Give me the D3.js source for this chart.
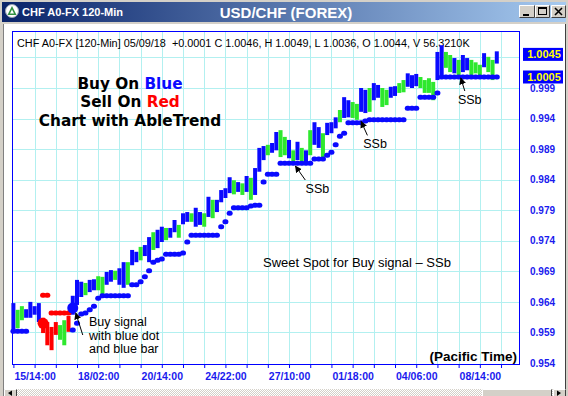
<!DOCTYPE html>
<html>
<head>
<meta charset="utf-8">
<script src="https://cdn.jsdelivr.net/npm/d3@7"></script>
<style>
  html, body { margin: 0; padding: 0; background: #fff; }
  svg { display: block; font-family: "Liberation Sans", Arial, sans-serif; }
</style>
</head>
<body>
<div id="chart"></div>
<script>
/* global d3 */

const WIDTH = 568;
const HEIGHT = 396;

// time axis: one unit = one 120-min bar, a tick every 10 bars, a label every 30
const TIME_LABELS = ["15/14:00", "18/02:00", "20/14:00", "24/22:00", "27/10:00", "01/18:00", "04/06:00", "08/14:00"];
const TIME_LABEL_BARS = [10, 40, 70, 100, 130, 160, 190, 220];
const PRICE_TICKS = [0.954, 0.959, 0.964, 0.969, 0.974, 0.979, 0.984, 0.989, 0.994, 0.999];
const GRID_PRICES = [0.959, 0.964, 0.969, 0.974, 0.979, 0.984, 0.989, 0.994, 0.999, 1.004];

// each drawn bar covers two 120-min bars
const BAR_STEP = 2;
const BAR_HIGH = [
  0.9638, 0.9627, 0.9633, 0.9628, 0.9640, 0.9633, 0.9638, 0.9614, 0.9607, 0.9599,
  0.9607, 0.9602, 0.9610, 0.9617, 0.9650, 0.9676, 0.9673, 0.9671, 0.9676, 0.9677,
  0.9682, 0.9681, 0.9689, 0.9692, 0.9691, 0.9695, 0.9705, 0.9705, 0.9725, 0.9722,
  0.9730, 0.9733, 0.9746, 0.9754, 0.9758, 0.9763, 0.9761, 0.9761, 0.9774, 0.9766,
  0.9785, 0.9787, 0.9785, 0.9794, 0.9787, 0.9785, 0.9812, 0.9807, 0.9807, 0.9823,
  0.9826, 0.9844, 0.9839, 0.9836, 0.9834, 0.9846, 0.9843, 0.9859, 0.9892, 0.9895,
  0.9897, 0.9900, 0.9918, 0.9921, 0.9910, 0.9905, 0.9888, 0.9902, 0.9892, 0.9888,
  0.9921, 0.9934, 0.9926, 0.9916, 0.9933, 0.9934, 0.9942, 0.9954, 0.9975, 0.9970,
  0.9967, 0.9964, 0.9990, 0.9987, 0.9990, 0.9998, 0.9995, 0.9990, 0.9987, 0.9992,
  0.9993, 0.9998, 1.0003, 1.0014, 1.0011, 1.0013, 1.0008, 1.0003, 1.0006, 1.0000,
  1.0049, 1.0060, 1.0049, 1.0044, 1.0039, 1.0036, 1.0044, 1.0039, 1.0036, 1.0032,
  1.0028, 1.0047, 1.0041, 1.0036, 1.0050,
];
const BAR_LOW = [
  0.9594, 0.9597, 0.9610, 0.9614, 0.9614, 0.9619, 0.9607, 0.9589, 0.9569, 0.9561,
  0.9586, 0.9578, 0.9569, 0.9591, 0.9619, 0.9635, 0.9648, 0.9651, 0.9656, 0.9659,
  0.9659, 0.9648, 0.9668, 0.9673, 0.9676, 0.9668, 0.9663, 0.9668, 0.9700, 0.9705,
  0.9708, 0.9715, 0.9705, 0.9725, 0.9728, 0.9738, 0.9741, 0.9745, 0.9754, 0.9745,
  0.9767, 0.9771, 0.9771, 0.9763, 0.9766, 0.9763, 0.9779, 0.9777, 0.9787, 0.9803,
  0.9810, 0.9818, 0.9816, 0.9820, 0.9815, 0.9820, 0.9807, 0.9815, 0.9853, 0.9872,
  0.9880, 0.9884, 0.9888, 0.9877, 0.9880, 0.9875, 0.9869, 0.9872, 0.9869, 0.9869,
  0.9880, 0.9897, 0.9892, 0.9872, 0.9913, 0.9916, 0.9924, 0.9934, 0.9941, 0.9942,
  0.9941, 0.9938, 0.9951, 0.9949, 0.9951, 0.9970, 0.9974, 0.9959, 0.9962, 0.9974,
  0.9977, 0.9982, 0.9983, 0.9992, 0.9990, 0.9993, 0.9990, 0.9982, 0.9982, 0.9970,
  1.0003, 1.0011, 1.0023, 1.0016, 1.0014, 1.0010, 1.0016, 1.0019, 1.0011, 1.0014,
  1.0008, 1.0024, 1.0016, 1.0003, 1.0030,
];
// b = blue (up trend), g = green (neutral), r = red (down trend)
const BAR_TYPE = [
  "b", "g", "g", "b", "b", "b", "b", "r", "r", "r",
  "r", "g", "g", "r", "b", "b", "b", "g", "b", "b",
  "g", "g", "b", "b", "g", "b", "b", "g", "b", "b",
  "g", "b", "b", "g", "b", "b", "g", "b", "b", "g",
  "b", "b", "g", "b", "b", "g", "b", "g", "b", "b",
  "b", "b", "g", "b", "g", "b", "g", "b", "b", "b",
  "g", "b", "b", "g", "g", "b", "g", "b", "g", "b",
  "g", "b", "b", "g", "b", "b", "b", "g", "b", "b",
  "g", "g", "b", "b", "g", "b", "b", "g", "g", "b",
  "b", "g", "g", "b", "b", "b", "g", "g", "g", "g",
  "b", "b", "g", "g", "b", "g", "b", "b", "g", "g",
  "g", "b", "g", "g", "b",
];

// trailing stops: [first bar, last bar, price]
const BLUE_STOPS = [
  [0, 3, 0.9592], [14, 14, 0.9594], [15, 15, 0.9605], [16, 16, 0.9620], [17, 17, 0.9622],
  [18, 18, 0.9627], [19, 19, 0.9633], [20, 20, 0.9646], [21, 27, 0.9650], [28, 29, 0.9668],
  [30, 30, 0.9673], [31, 31, 0.9681], [32, 32, 0.9691], [33, 33, 0.9705], [34, 34, 0.9708],
  [35, 35, 0.9710], [36, 39, 0.9718], [40, 40, 0.9720], [41, 41, 0.9738], [42, 48, 0.9749],
  [49, 49, 0.9763], [50, 50, 0.9771], [51, 51, 0.9785], [52, 55, 0.9794], [56, 56, 0.9797],
  [57, 58, 0.9798], [59, 59, 0.9836], [60, 62, 0.9849], [63, 70, 0.9867], [71, 73, 0.9874],
  [74, 74, 0.9880], [75, 75, 0.9885], [76, 76, 0.9897], [77, 77, 0.9911], [78, 78, 0.9916],
  [79, 82, 0.9933], [83, 83, 0.9936], [84, 92, 0.9938], [93, 95, 0.9957], [96, 99, 0.9975],
  [100, 100, 0.9982], [101, 114, 1.0008],
];
const RED_STOPS = [[7, 8, 0.9651], [9, 13, 0.9622]];

const SIGNAL_BARS = [7, 14];
const SIGNAL_PRICES = [0.9605, 0.9630];
const SIGNAL_TYPES = ["r", "b"];

const SSB_BARS = [133, 164, 211];
const SSB_PRICES = [0.9864, 0.9937, 1.0008];

const FLAG_TEXTS = ["1.0045", "1.0005"];
const FLAG_PRICES = [1.0045, 1.0008];

const COLORS = { b: "#0a0aff", g: "#2ee82e", r: "#ff0000" };
const AXIS_BLUE = "#1a1aee";
const GRID = "#b2f0f0";

const plot = { left: 12.5, top: 31.5, right: 519.5, bottom: 364 };

const x = d3.scaleLinear().domain([0, 238]).range([13.4, 518]);
const y = d3.scaleLinear().domain([0.954, 0.999]).range([363, 88]);

const svg = d3.select("#chart")
  .append("svg")
  .attr("width", WIDTH)
  .attr("height", HEIGHT)
  .attr("viewBox", `0 0 ${WIDTH} ${HEIGHT}`);

const defs = svg.append("defs");

const grad = defs.append("linearGradient").attr("id", "titleGrad");
grad.append("stop").attr("offset", "0%").attr("stop-color", "#0a246a");
grad.append("stop").attr("offset", "100%").attr("stop-color", "#a6caf0");

const checker = defs.append("pattern")
  .attr("id", "checker")
  .attr("width", 2)
  .attr("height", 2)
  .attr("patternUnits", "userSpaceOnUse");
checker.append("rect").attr("width", 2).attr("height", 2).attr("fill", "#d4d0c8");
checker.append("rect").attr("width", 1).attr("height", 1).attr("fill", "#fff");
checker.append("rect").attr("x", 1).attr("y", 1).attr("width", 1).attr("height", 1).attr("fill", "#fff");

defs.append("marker")
  .attr("id", "arrow")
  .attr("viewBox", "0 0 10 10")
  .attr("refX", 9)
  .attr("refY", 5)
  .attr("markerWidth", 7)
  .attr("markerHeight", 7)
  .attr("markerUnits", "userSpaceOnUse")
  .attr("orient", "auto")
  .append("path")
  .attr("d", "M0,0 L10,5 L0,10 z")
  .attr("fill", "#000");

// ---- window frame ----
svg.append("rect").attr("width", WIDTH).attr("height", HEIGHT).attr("fill", "#d4d0c8");
svg.append("rect").attr("x", 2).attr("y", 2).attr("width", 564).attr("height", 20).attr("fill", "url(#titleGrad)");
svg.append("rect").attr("x", 4).attr("y", 24).attr("width", 561).attr("height", 365).attr("fill", "#fff");
svg.append("line")
  .attr("x1", 565.5).attr("x2", 565.5).attr("y1", 24).attr("y2", 389)
  .attr("stroke", "#404040");
svg.append("line")
  .attr("x1", 3.5).attr("x2", 3.5).attr("y1", 24).attr("y2", 396)
  .attr("stroke", "#808080");

// title bar icon
svg.append("circle").attr("cx", 12).attr("cy", 11).attr("r", 6.5)
  .attr("fill", "#fff").attr("stroke", "#9aa4b4");
svg.append("path").attr("d", "M12,6 L16.5,15 L7.5,15 z").attr("fill", "#2f8f3f");
svg.append("path").attr("d", "M12,9.5 L14,13.5 L10,13.5 z").attr("fill", "#fff");

svg.append("text")
  .attr("x", 22).attr("y", 16)
  .attr("fill", "#fff")
  .attr("font-weight", "bold")
  .attr("font-size", 11)
  .text("CHF A0-FX 120-Min");

svg.append("text")
  .attr("x", 286).attr("y", 18)
  .attr("text-anchor", "middle")
  .attr("fill", "#fff")
  .attr("font-weight", "bold")
  .attr("font-size", 15)
  .text("USD/CHF (FOREX)");

// caption buttons
[[519, 16, "min"], [535, 15, "max"], [551, 15, "close"]].forEach(([bx, bw, kind]) => {
  const b = svg.append("g").attr("transform", `translate(${bx},5)`);
  b.append("rect").attr("width", bw).attr("height", 13).attr("fill", "#d4d0c8");
  b.append("path").attr("d", `M0.5,12.5 V0.5 H${bw - 0.5}`).attr("fill", "none").attr("stroke", "#fff");
  b.append("path").attr("d", `M0.5,12.5 H${bw - 0.5} V0.5`).attr("fill", "none").attr("stroke", "#404040");
  if (kind === "min") {
    b.append("rect").attr("x", 4).attr("y", 9).attr("width", 6).attr("height", 2).attr("fill", "#000");
  } else if (kind === "max") {
    b.append("rect").attr("x", 3.5).attr("y", 2.5).attr("width", 8).attr("height", 7)
      .attr("fill", "none").attr("stroke", "#000");
    b.append("rect").attr("x", 3.5).attr("y", 2.5).attr("width", 8).attr("height", 1.5).attr("fill", "#000");
  } else {
    b.append("path").attr("d", "M4,3 L11,10 M11,3 L4,10").attr("stroke", "#000").attr("stroke-width", 1.6);
  }
});

// scrollbar
svg.append("rect").attr("x", 4).attr("y", 389).attr("width", 562).attr("height", 7).attr("fill", "url(#checker)");
[[4, 13], [482, 70], [553, 13]].forEach(([sx, sw]) => {
  svg.append("rect").attr("x", sx).attr("y", 389).attr("width", sw).attr("height", 7).attr("fill", "#d4d0c8");
  svg.append("path").attr("d", `M${sx + 0.5},396 V389.5 H${sx + sw - 0.5}`).attr("fill", "none").attr("stroke", "#fff");
  svg.append("path").attr("d", `M${sx + sw - 0.5},389.5 V396`).attr("fill", "none").attr("stroke", "#404040");
});
svg.append("path").attr("d", "M8,393 L12,390.5 L12,396 z").attr("fill", "#000");
svg.append("path").attr("d", "M561,393 L557,390.5 L557,396 z").attr("fill", "#000");

// ---- grid ----
const grid = svg.append("g");
const timeTicks = d3.range(0, 231, 10);

grid.selectAll(".vgrid")
  .data(timeTicks.slice(1))
  .join("line")
  .attr("x1", (d) => Math.round(x(d)) + 0.5)
  .attr("x2", (d) => Math.round(x(d)) + 0.5)
  .attr("y1", plot.top)
  .attr("y2", plot.bottom)
  .attr("stroke", GRID);

grid.selectAll(".hgrid")
  .data(GRID_PRICES)
  .join("line")
  .attr("x1", plot.left)
  .attr("x2", plot.right)
  .attr("y1", (d) => Math.round(y(d)) + 0.5)
  .attr("y2", (d) => Math.round(y(d)) + 0.5)
  .attr("stroke", GRID);

svg.append("rect")
  .attr("x", plot.left).attr("y", plot.top)
  .attr("width", plot.right - plot.left)
  .attr("height", plot.bottom - plot.top + 0.5)
  .attr("fill", "none")
  .attr("stroke", "#0000ff");

// ---- header ----
svg.append("text")
  .attr("x", 17).attr("y", 46.5)
  .attr("font-size", 10.85)
  .attr("fill", "#000")
  .attr("xml:space", "preserve")
  .style("white-space", "pre")
  .text("CHF A0-FX [120-Min] 05/09/18  +0.0001 C 1.0046, H 1.0049, L 1.0036, O 1.0044, V 56.3210K");

// ---- bars ----
const bars = BAR_HIGH.map((hi, i) => ({ i, hi, lo: BAR_LOW[i], type: BAR_TYPE[i] }));

svg.append("g")
  .selectAll("rect")
  .data(bars)
  .join("rect")
  .attr("x", (d) => x(d.i * BAR_STEP) - 2)
  .attr("y", (d) => y(d.hi))
  .attr("width", 4)
  .attr("height", (d) => Math.max(2, y(d.lo) - y(d.hi)))
  .attr("fill", (d) => COLORS[d.type]);

// ---- stops ----
function expandStops(runs, type) {
  const out = [];
  runs.forEach(([a, b, price]) => {
    for (let i = a; i <= b; i += 1) out.push({ i, price, type });
  });
  return out;
}

const stops = expandStops(BLUE_STOPS, "b").concat(expandStops(RED_STOPS, "r"));

svg.append("g")
  .selectAll("rect")
  .data(stops)
  .join("rect")
  .attr("x", (d) => x(d.i * BAR_STEP) - 3)
  .attr("y", (d) => y(d.price) - 2.5)
  .attr("width", 6)
  .attr("height", 5)
  .attr("rx", 2.5)
  .attr("fill", (d) => COLORS[d.type]);

// ---- signal dots ----
svg.append("g")
  .selectAll("circle")
  .data(SIGNAL_BARS)
  .join("circle")
  .attr("cx", (d) => x(d * BAR_STEP))
  .attr("cy", (d, i) => y(SIGNAL_PRICES[i]))
  .attr("r", 5.5)
  .attr("fill", (d, i) => COLORS[SIGNAL_TYPES[i]]);

// ---- annotations ----
const notes = svg.append("g").attr("fill", "#000");

const bold = (sel) => sel.attr("font-family", "'DejaVu Sans', Verdana, sans-serif").attr("font-weight", "bold").attr("font-size", 15.3);

const l1 = notes.append("text").attr("x", 130).attr("y", 89).attr("text-anchor", "middle").call(bold);
l1.append("tspan").text("Buy On ");
l1.append("tspan").attr("fill", COLORS.b).text("Blue");
const l2 = notes.append("text").attr("x", 130).attr("y", 107).attr("text-anchor", "middle").call(bold);
l2.append("tspan").text("Sell On ");
l2.append("tspan").attr("fill", COLORS.r).text("Red");
notes.append("text").attr("x", 130).attr("y", 126).attr("text-anchor", "middle").call(bold).text("Chart with AbleTrend");

notes.append("text")
  .attr("x", 263).attr("y", 266.5)
  .attr("font-size", 13)
  .text("Sweet Spot for Buy signal \u2013 SSb");

const ssbOffsets = [[22, 23], [14, 23], [9, 22]];
SSB_BARS.forEach((bar, i) => {
  const tx = x(bar);
  const ty = y(SSB_PRICES[i]);
  const [ox, oy] = ssbOffsets[i];
  notes.append("line")
    .attr("x1", tx + ox * 0.45).attr("y1", ty + oy - 8)
    .attr("x2", tx).attr("y2", ty + 1)
    .attr("stroke", "#000")
    .attr("marker-end", "url(#arrow)");
  notes.append("text")
    .attr("x", tx + ox).attr("y", ty + oy + 4.5)
    .attr("text-anchor", "middle")
    .attr("font-size", 12.5)
    .text("SSb");
});

const buyX = x(SIGNAL_BARS[1] * BAR_STEP);
const buyY = y(SIGNAL_PRICES[1]);
notes.append("line")
  .attr("x1", buyX + 10).attr("y1", buyY + 27)
  .attr("x2", buyX + 3).attr("y2", buyY + 5)
  .attr("stroke", "#000")
  .attr("marker-end", "url(#arrow)");
["Buy signal", "with blue dot", "and blue bar"].forEach((line, i) => {
  notes.append("text")
    .attr("x", 89).attr("y", 326 + i * 13.5)
    .attr("font-size", 12.5)
    .text(line);
});

notes.append("text")
  .attr("x", 517).attr("y", 360.5)
  .attr("text-anchor", "end")
  .attr("font-weight", "bold")
  .attr("font-size", 13.5)
  .text("(Pacific Time)");

// ---- axes ----
const xAxis = svg.append("g")
  .attr("transform", `translate(0,${plot.bottom})`)
  .call(
    d3.axisBottom(x)
      .tickValues(timeTicks)
      .tickSize(4)
      .tickFormat((d) => {
        const k = TIME_LABEL_BARS.indexOf(d);
        return k >= 0 ? TIME_LABELS[k] : "";
      }),
  );
xAxis.select(".domain").remove();
xAxis.selectAll(".tick line").attr("stroke", "#0000ff");
xAxis.selectAll(".tick text")
  .attr("y", 16)
  .attr("dy", 0)
  .attr("fill", AXIS_BLUE)
  .attr("font-family", "'Liberation Sans', Arial, sans-serif")
  .attr("font-weight", "bold")
  .attr("font-size", 10.5);

const yAxis = svg.append("g")
  .attr("transform", "translate(530,0)")
  .call(d3.axisRight(y).tickValues(PRICE_TICKS).tickSize(0).tickPadding(0).tickFormat(d3.format(".3f")));
yAxis.select(".domain").remove();
yAxis.selectAll(".tick text")
  .attr("fill", AXIS_BLUE)
  .attr("font-family", "'Liberation Sans', Arial, sans-serif")
  .attr("font-weight", "bold")
  .attr("font-size", 10);

// ---- price flags ----
FLAG_TEXTS.forEach((label, i) => {
  const fy = y(FLAG_PRICES[i]);
  svg.append("rect")
    .attr("x", 523).attr("y", fy - 6.5)
    .attr("width", 40).attr("height", 13)
    .attr("fill", "#0000ff");
  svg.append("text")
    .attr("x", 544).attr("y", fy + 4)
    .attr("text-anchor", "middle")
    .attr("fill", "#ffff00")
    .attr("font-weight", "bold")
    .attr("font-size", 11)
    .text(label);
});
</script>
</body>
</html>
